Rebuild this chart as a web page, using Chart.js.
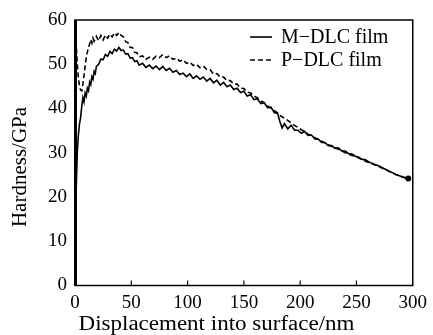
<!DOCTYPE html>
<html lang="en">
<head>
    <meta charset="UTF-8">
    <title>Hardness vs displacement</title>
    <script src="https://cdn.jsdelivr.net/npm/chart.js@4.4.0/dist/chart.umd.min.js"></script>
    <style>
        html, body { margin: 0; padding: 0; background: #fff; }
        #wrap { width: 433px; height: 335px; }
    </style>
</head>
<body>
    <div id="wrap"><canvas id="hardChart" width="433" height="335"></canvas></div>
    <script>
        // M-DLC film (solid line)
        const dispM = [0, 0.5, 1, 2, 3, 4, 5, 6, 7, 8, 9, 10, 11, 12, 13, 14, 15, 16, 17, 18, 19, 21, 23, 25, 27, 29, 31, 33, 35, 37, 39, 41, 43, 45, 47, 49, 51, 53, 55, 57, 60, 63, 66, 69, 72, 75, 78, 81, 84, 87, 90, 93, 96, 99, 102, 105, 108, 111, 114, 117, 120, 123, 126, 129, 132, 135, 138, 141, 144, 147, 150, 153, 156, 159, 162, 165, 168, 171, 174, 177, 180, 182, 184, 186, 189, 192, 195, 198, 201, 204, 207, 210, 213, 216, 219, 222, 225, 228, 231, 234, 237, 240, 243, 246, 249, 252, 255, 258, 261, 264, 267, 270, 273, 276, 279, 282, 285, 288, 291, 294, 296];
        const hardM = [0, 60, 21, 30, 34, 36.5, 38, 40.5, 42.5, 41.5, 43.5, 42.8, 44.6, 44, 46, 45.4, 47.2, 46.6, 48.4, 47.9, 49.5, 50, 51.2, 51, 52.2, 51.8, 52.9, 52.4, 53.4, 53, 53.8, 53.1, 53.2, 52.3, 52.4, 51.4, 51.5, 50.6, 50.8, 49.8, 50.2, 49.3, 49.8, 49, 49.6, 48.8, 49.5, 48.6, 49.1, 48.2, 48.6, 47.7, 48, 47.2, 47.8, 46.8, 47.4, 46.6, 47.1, 46.2, 46.8, 45.8, 46.4, 45.3, 45.9, 44.9, 45.3, 44.3, 44.6, 43.6, 43.9, 42.8, 43.1, 42, 42.2, 41.1, 41.3, 40.2, 40.3, 39.1, 38.9, 37, 35.6, 36.6, 35.4, 36.2, 35.1, 35.1, 34.4, 34.8, 33.9, 34, 33.1, 33.1, 32.3, 32.3, 31.6, 31.6, 31, 31.1, 30.4, 30.4, 29.8, 29.7, 29.2, 29.0, 28.5, 28.4, 27.9, 27.6, 27.3, 27.0, 26.6, 26.2, 25.8, 25.5, 25.1, 24.8, 24.5, 24.3, 24.2];

        // P-DLC film (dashed line)
        const dispP = [0, 1, 2, 3, 4, 5, 6, 7, 8, 9, 10, 11, 12, 13, 14, 15, 16, 17, 19, 21, 23, 25, 27, 29, 31, 33, 35, 37, 39, 41, 43, 45, 47, 49, 51, 53, 55, 57, 60, 63, 66, 69, 72, 75, 78, 81, 84, 87, 90, 93, 96, 99, 102, 105, 108, 111, 114, 117, 120, 123, 126, 129, 132, 135, 138, 141, 144, 147, 150, 153, 156, 159, 162, 165, 168, 171, 174, 177, 180, 183, 186, 189, 192, 195, 198, 201, 204, 207, 210, 213, 216, 219, 222, 225, 228, 231, 234, 237, 240, 243, 246, 249, 252, 255, 258, 261, 264, 267, 270, 273, 276, 279, 282, 285, 288, 291, 294, 296];
        const hardP = [59, 55, 50, 47, 45, 44.2, 44, 45.5, 47.5, 49.5, 51.5, 52.8, 53.8, 54.6, 55.6, 54.8, 55.9, 55.2, 56.3, 55.3, 56.5, 55.5, 56.6, 55.9, 56.8, 56.2, 57.1, 56.5, 57.2, 56.5, 56.2, 55.1, 54.9, 53.8, 53.8, 52.7, 52.6, 51.7, 51.9, 51.1, 51.6, 51.1, 51.8, 51.5, 52.2, 51.5, 51.9, 51.1, 51.4, 50.7, 51, 50.2, 50.5, 49.7, 50, 49.2, 49.6, 48.8, 48.8, 47.8, 47.9, 47.1, 47.1, 46.3, 46.3, 45.5, 45.5, 44.6, 44.5, 43.7, 43.5, 42.8, 42.4, 41.7, 41.3, 40.6, 40.1, 39.5, 39.0, 38.3, 37.8, 37.3, 36.7, 36.2, 35.7, 35.2, 34.8, 34.2, 33.9, 33.4, 33.0, 32.6, 32.2, 31.8, 31.4, 31.1, 30.8, 30.4, 30.0, 29.7, 29.4, 29.2, 28.8, 28.5, 28.1, 27.8, 27.5, 27.2, 26.9, 26.5, 26.2, 25.8, 25.5, 25.1, 24.8, 24.5, 24.3, 24.2];

        const xTicks = [0, 50, 100, 150, 200, 250, 300];
        const yTicks = [0, 10, 20, 30, 40, 50, 60];
        const xTitle = 'Displacement into surface/nm';
        const yTitle = 'Hardness/GPa';

        const FONT = '"Liberation Serif", "Times New Roman", serif';

        const toPoints = (xs, ys) => xs.map((x, i) => ({ x: x, y: ys[i] }));

        // box around the plot, inward ticks, axis titles and the legend
        const framePlugin = {
            id: 'frame',
            afterDatasetsDraw(chart) {
                const { ctx, chartArea: a, scales } = chart;
                ctx.save();
                ctx.strokeStyle = '#000';
                ctx.lineWidth = 1.5;
                ctx.strokeRect(a.left, a.top, a.right - a.left, a.bottom - a.top);
                ctx.lineWidth = 3;
                ctx.beginPath();
                ctx.moveTo(a.left + 0.5, a.top);
                ctx.lineTo(a.left + 0.5, a.bottom);
                ctx.stroke();
                ctx.lineWidth = 1.2;
                xTicks.slice(1, -1).forEach(v => {
                    const px = scales.x.getPixelForValue(v);
                    ctx.beginPath();
                    ctx.moveTo(px, a.bottom);
                    ctx.lineTo(px, a.bottom - 5);
                    ctx.stroke();
                });

                // axis titles, a bit wide like the scanned figure
                ctx.fillStyle = '#000';
                ctx.textAlign = 'center';
                ctx.textBaseline = 'middle';
                ctx.font = '20px ' + FONT;
                ctx.save();
                ctx.translate(chart.width / 2, 325);
                ctx.scale(1.15, 1);
                ctx.fillText(xTitle, 0, 0);
                ctx.restore();
                ctx.save();
                ctx.translate(20, 167);
                ctx.rotate(-Math.PI / 2);
                ctx.font = '21px ' + FONT;
                ctx.fillText(yTitle, 0, 0);
                ctx.restore();

                // legend
                const lx = 250, ly = 37, gap = 23;
                ctx.textAlign = 'left';
                ctx.font = '20px ' + FONT;
                chart.data.datasets.forEach((ds, i) => {
                    const y = ly + i * gap;
                    ctx.lineWidth = 1.6;
                    ctx.setLineDash(ds.borderDash || []);
                    ctx.beginPath();
                    ctx.moveTo(lx, y);
                    ctx.lineTo(lx + 22, y);
                    ctx.stroke();
                    ctx.setLineDash([]);
                    ctx.fillText(ds.label, lx + 31, y + 1);
                });
                ctx.restore();
            }
        };

        const lastDot = c => (c.dataIndex === c.dataset.data.length - 1 ? 2.2 : 0);

        const ctx = document.getElementById('hardChart').getContext('2d');
        new Chart(ctx, {
            type: 'line',
            data: {
                datasets: [
                    {
                        label: 'M\u2212DLC film',
                        data: toPoints(dispM, hardM),
                        borderColor: '#000',
                        backgroundColor: '#000',
                        borderWidth: 1.6,
                        pointRadius: lastDot,
                        fill: false,
                        tension: 0
                    },
                    {
                        label: 'P\u2212DLC film',
                        data: toPoints(dispP, hardP),
                        borderColor: '#000',
                        backgroundColor: '#000',
                        borderWidth: 1.6,
                        borderDash: [5, 3],
                        pointRadius: 0,
                        fill: false,
                        tension: 0
                    }
                ]
            },
            options: {
                responsive: false,
                animation: false,
                layout: { padding: { top: 20, right: 19, left: 0, bottom: 0 } },
                scales: {
                    x: {
                        type: 'linear',
                        min: 0, max: 300,
                        afterBuildTicks: s => { s.ticks = xTicks.map(v => ({ value: v })); },
                        afterFit: s => { s.height = 49.5; },
                        grid: { display: false, drawTicks: false },
                        border: { display: false },
                        ticks: { padding: 6, color: '#000', font: { family: FONT, size: 19 } }
                    },
                    y: {
                        min: 0, max: 60,
                        afterBuildTicks: s => { s.ticks = yTicks.map(v => ({ value: v })); },
                        afterFit: s => { s.width = 75; },
                        grid: { display: false, drawTicks: false },
                        border: { display: false },
                        ticks: { padding: 8, color: '#000', font: { family: FONT, size: 19 } }
                    }
                },
                plugins: {
                    legend: { display: false },
                    tooltip: { enabled: false }
                }
            },
            plugins: [framePlugin]
        });
    </script>
</body>
</html>
